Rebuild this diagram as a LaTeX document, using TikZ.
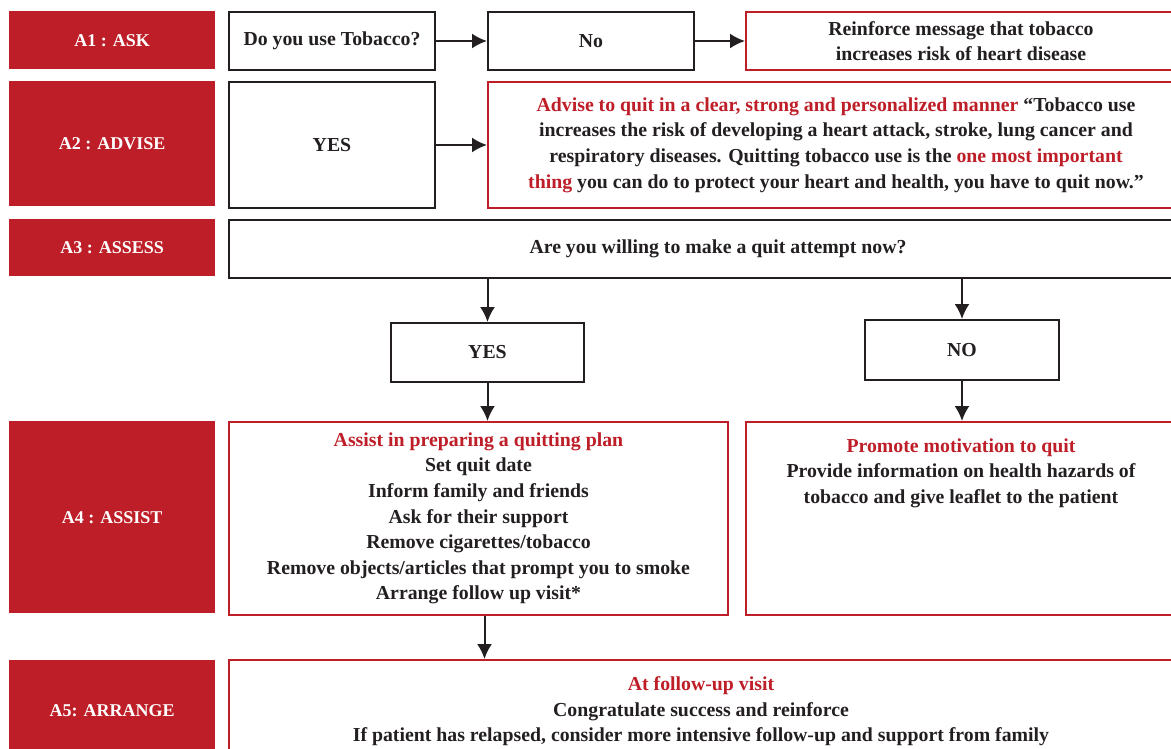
\documentclass[tikz,border=0pt]{standalone}
\usepackage{fontspec}
\setmainfont{Liberation Serif}
\usetikzlibrary{arrows.meta, positioning}
\definecolor{boxred}{RGB}{190,30,39}
\definecolor{ink}{RGB}{35,31,32}
\newcommand{\bodyfont}{\fontsize{19.8}{25.6}\selectfont\bfseries}
\newcommand{\stagefont}{\fontsize{18}{20}\selectfont\bfseries}
\newcommand{\hl}[1]{\textcolor{boxred}{#1}}
\tikzstyle{stage} = [rectangle, fill=boxred, text=white, minimum width=206pt, anchor=north west, text centered, font=\stagefont]
\tikzstyle{plain} = [rectangle, draw=ink, line width=2pt, anchor=north west, text centered, text=ink, font=\bodyfont]
\tikzstyle{redline} = [rectangle, draw=boxred, line width=2pt, anchor=north west, text centered, text=ink, font=\bodyfont, align=center]
\tikzstyle{arrow} = [line width=2pt, draw=ink, ->, >={Latex[length=15pt,width=15pt]}]
\begin{document}
\begin{tikzpicture}[x=1pt, y=-1pt]
                 \useasboundingbox (0,0) rectangle (1171,749);
                 \clip (0,0) rectangle (1171,749);
                 \node [stage, minimum height=58pt] at (9,11) (a1) {A1 : ASK};
                 \node [stage, minimum height=125pt] at (9,81) (a2) {A2 : ADVISE};
                 \node [stage, minimum height=57pt] at (9,219) (a3) {A3 : ASSESS};
                 \node [stage, minimum height=192pt] at (9,421) (a4) {A4 : ASSIST};
                 \node [stage, minimum height=100pt] at (9,660) (a5) {A5: ARRANGE};
                 \node [plain, minimum width=206pt, minimum height=58pt] at (228,11) (ask) {Do you use Tobacco?};
                 \node [plain, minimum width=206pt, minimum height=58pt] at (487,11) (no) {No};
                 \node [redline, minimum width=430pt, minimum height=58pt] at (745,11) (reinforce) {Reinforce message that tobacco\\increases risk of heart disease};
                 \node [plain, minimum width=206pt, minimum height=126pt] at (228,81) (yes) {YES};
                 \node [redline, minimum width=696pt, minimum height=126pt] at (487,81) (advise) {\hl{Advise to quit in a clear, strong and personalized manner} ``Tobacco use\\increases the risk of developing a heart attack, stroke, lung cancer and\\respiratory diseases. Quitting tobacco use is the \hl{one most important}\\\hl{thing} you can do to protect your heart and health, you have to quit now.''};
                 \node [plain, minimum width=978pt, minimum height=58pt] at (228,219) (assess) {Are you willing to make a quit attempt now?};
                 \node [plain, minimum width=193pt, minimum height=59pt] at (390,322) (yesquit) {YES};
                 \node [plain, minimum width=194pt, minimum height=60pt] at (864,319) (noquit) {NO};
                 \node [redline, minimum width=499pt, minimum height=193pt] at (228,421) (assist) {\hl{Assist in preparing a quitting plan}\\Set quit date\\Inform family and friends\\Ask for their support\\Remove cigarettes/tobacco\\Remove objects/articles that prompt you to smoke\\Arrange follow up visit*};
                 \node [redline, minimum width=430pt, minimum height=193pt] at (745,421) (promote) {};
                 \node [below=14pt of promote.north, align=center, text=ink, font=\bodyfont] (promotetext) {\hl{Promote motivation to quit}\\Provide information on health hazards of\\tobacco and give leaflet to the patient};
                 \node [redline, minimum width=944pt, minimum height=110pt] at (228,659) (arrange) {};
                 \node [below=14pt of arrange.north, align=center, text=ink, font=\bodyfont] (arrangetext) {\hl{At follow-up visit}\\Congratulate success and reinforce\\If patient has relapsed, consider more intensive follow-up and support from family};
                 \draw [arrow] (ask) -- (no);
                 \draw [arrow] (no) -- (reinforce);
                 \draw [arrow] (yes) -- (advise);
                 \draw [arrow] (assess.south -| yesquit) -- (yesquit);
                 \draw [arrow] (assess.south -| noquit) -- (noquit);
                 \draw [arrow] (yesquit) -- (yesquit |- assist.north);
                 \draw [arrow] (noquit) -- (noquit |- promote.north);
                 \draw [arrow] ([xshift=6pt]assist.south) -- ([xshift=6pt]assist.south |- arrange.north);
                 \end{tikzpicture}
\end{document}
